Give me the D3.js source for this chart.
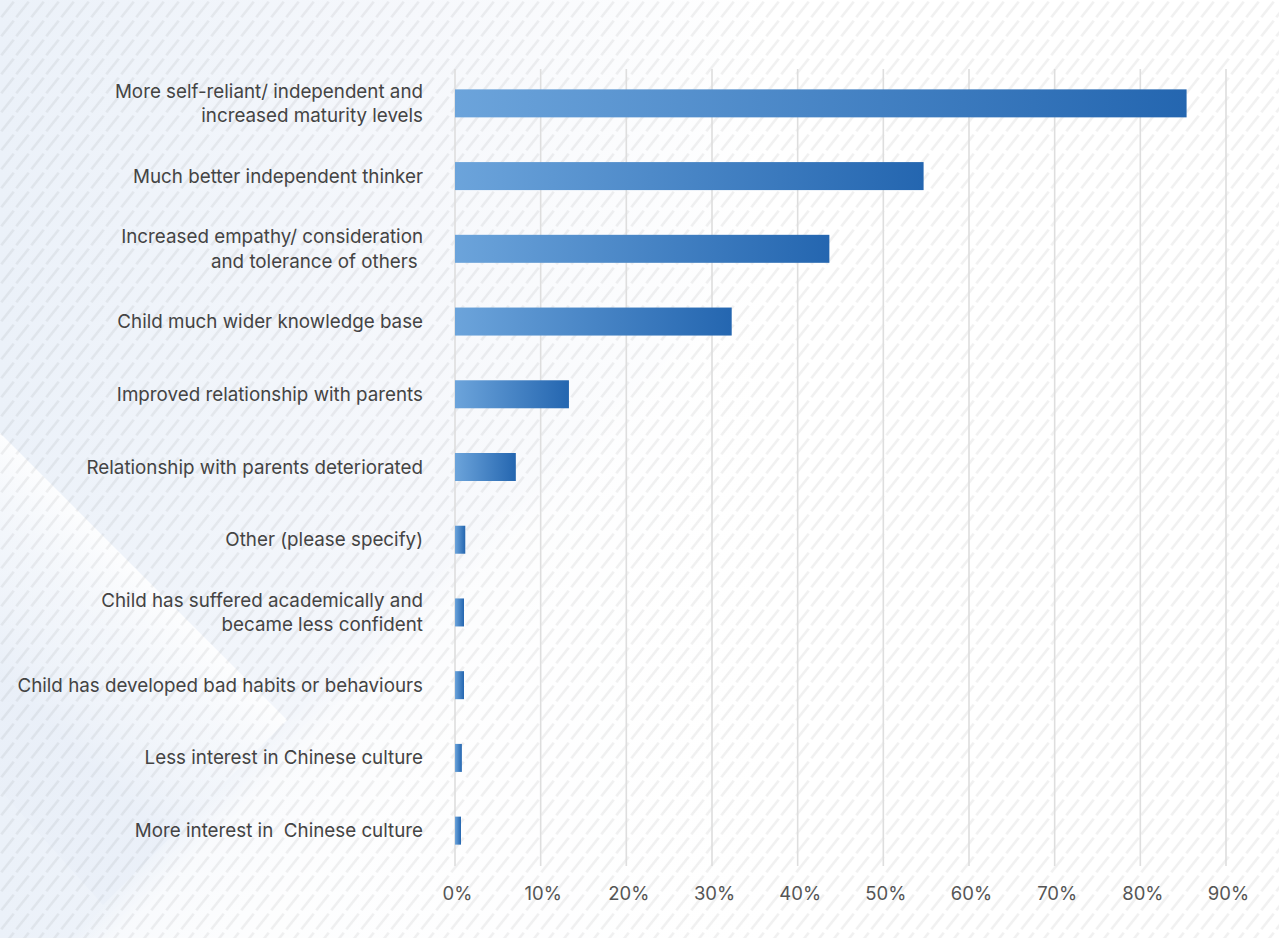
<!DOCTYPE html>
<html>
<head>
<meta charset="utf-8">
<script src="https://cdn.jsdelivr.net/npm/d3@7"></script>
<style>
  html, body { margin: 0; padding: 0; background: #fff; }
  svg { display: block; }
  text { font-family: Inter, "Noto Sans", sans-serif; white-space: pre; }
</style>
</head>
<body>
<svg id="chart" width="1279" height="938"></svg>
<script>
// Survey responses: perceived effects on the child (share of respondents, %)
const categories = [
  "More self-reliant/ independent and\nincreased maturity levels",
  "Much better independent thinker",
  "Increased empathy/ consideration\nand tolerance of others ",
  "Child much wider knowledge base",
  "Improved relationship with parents",
  "Relationship with parents deteriorated",
  "Other (please specify)",
  "Child has suffered academically and\nbecame less confident",
  "Child has developed bad habits or behaviours",
  "Less interest in Chinese culture",
  "More interest in  Chinese culture"
];
const values = [85.4, 54.7, 43.7, 32.3, 13.3, 7.1, 1.2, 1.05, 1.05, 0.8, 0.7];
const tickValues = [0, 10, 20, 30, 40, 50, 60, 70, 80, 90];

const W = 1279, H = 938;
const margin = { left: 455, right: 53, top: 67, bottom: 71 };
const svg = d3.select("#chart");
const defs = svg.append("defs");

// ---- background ----
const bgGrad = defs.append("linearGradient").attr("id", "bgGrad")
  .attr("x1", 0).attr("y1", 0).attr("x2", 1).attr("y2", 0);
bgGrad.append("stop").attr("offset", 0).attr("stop-color", "#ebf1f9");
bgGrad.append("stop").attr("offset", 0.33).attr("stop-color", "#f6f8fc");
bgGrad.append("stop").attr("offset", 0.6).attr("stop-color", "#ffffff");
svg.append("rect").attr("width", W).attr("height", H).attr("fill", "url(#bgGrad)");

// lighter area below the lower-right diagonal
const lowGrad = defs.append("linearGradient").attr("id", "lowGrad")
  .attr("gradientUnits", "userSpaceOnUse")
  .attr("x1", 150).attr("y1", 858).attr("x2", 240).attr("y2", 948);
lowGrad.append("stop").attr("offset", 0).attr("stop-color", "#ffffff").attr("stop-opacity", 0);
lowGrad.append("stop").attr("offset", 0.25).attr("stop-color", "#ffffff").attr("stop-opacity", 0.6);
lowGrad.append("stop").attr("offset", 1).attr("stop-color", "#ffffff").attr("stop-opacity", 0.85);
svg.append("polygon")
  .attr("points", "0,1008 700,308 1279,308 1279,938 0,938")
  .attr("fill", "url(#lowGrad)");

// diamond with a soft highlight along its upper edge
const diaGrad = defs.append("linearGradient").attr("id", "diaGrad")
  .attr("gradientUnits", "userSpaceOnUse")
  .attr("x1", 150).attr("y1", 583).attr("x2", 30).attr("y2", 703);
diaGrad.append("stop").attr("offset", 0).attr("stop-color", "#ffffff").attr("stop-opacity", 0.85);
diaGrad.append("stop").attr("offset", 0.4).attr("stop-color", "#f8fafd").attr("stop-opacity", 0.55);
diaGrad.append("stop").attr("offset", 1).attr("stop-color", "#e9eff8").attr("stop-opacity", 0.8);
svg.append("polygon")
  .attr("points", "0,433 287,720 103,905 0,790")
  .attr("fill", "url(#diaGrad)");

// diagonal dashed hatching
const hatch = defs.append("pattern").attr("id", "hatch")
  .attr("patternUnits", "userSpaceOnUse")
  .attr("width", 15).attr("height", 19);
hatch.append("line")
  .attr("x1", 1.3).attr("y1", 17.3).attr("x2", 13.7).attr("y2", 1.7)
  .attr("stroke", "#000").attr("stroke-opacity", 0.055)
  .attr("stroke-width", 2.6).attr("stroke-linecap", "butt");
svg.append("rect").attr("width", W).attr("height", H).attr("fill", "url(#hatch)");

// ---- bar gradient ----
const barGrad = defs.append("linearGradient").attr("id", "barGrad")
  .attr("x1", 0).attr("y1", 0).attr("x2", 1).attr("y2", 0);
barGrad.append("stop").attr("offset", 0).attr("stop-color", "#6ca4db");
barGrad.append("stop").attr("offset", 1).attr("stop-color", "#2466b0");

// ---- scales ----
const x = d3.scaleLinear().domain([0, 90]).range([margin.left, W - margin.right]);
const y = d3.scaleBand().domain(categories)
  .range([margin.top, H - margin.bottom])
  .paddingInner(0.615).paddingOuter(0.3075);

// gridlines
svg.append("g").selectAll("line").data(tickValues).join("line")
  .attr("x1", d => x(d)).attr("x2", d => x(d))
  .attr("y1", 69).attr("y2", 866)
  .attr("stroke", "#dedede").attr("stroke-width", 1.6);

// bars
svg.append("g").selectAll("rect").data(categories).join("rect")
  .attr("x", x(0))
  .attr("y", d => y(d))
  .attr("width", (d, i) => x(values[i]) - x(0))
  .attr("height", y.bandwidth())
  .attr("fill", "url(#barGrad)");

// x-axis tick labels
const xAxis = d3.axisBottom(x).tickValues(tickValues).tickFormat(d => d + "%").tickSize(0).tickPadding(0);
const gx = svg.append("g").attr("transform", `translate(2, 887)`).call(xAxis);
gx.select(".domain").remove();
gx.selectAll("text")
  .attr("dy", "0.71em")
  .style("font-family", "Inter, 'Noto Sans', sans-serif")
  .style("font-size", "18.5px")
  .attr("fill", "#555");

// category labels
const lineH = 24.5;
const labels = svg.append("g").selectAll("text").data(categories).join("text")
  .attr("x", 423)
  .attr("text-anchor", "end")
  .attr("fill", "#444")
  .style("font-size", "18.8px");
labels.each(function(d) {
  const lines = d.split("\n");
  const cy = y(d) + y.bandwidth() / 2;
  const t = d3.select(this);
  lines.forEach((ln, k) => {
    t.append("tspan")
      .attr("x", 423)
      .attr("y", cy + (k - (lines.length - 1) / 2) * lineH)
      .attr("dy", "0.35em")
      .text(ln);
  });
});
</script>
</body>
</html>
